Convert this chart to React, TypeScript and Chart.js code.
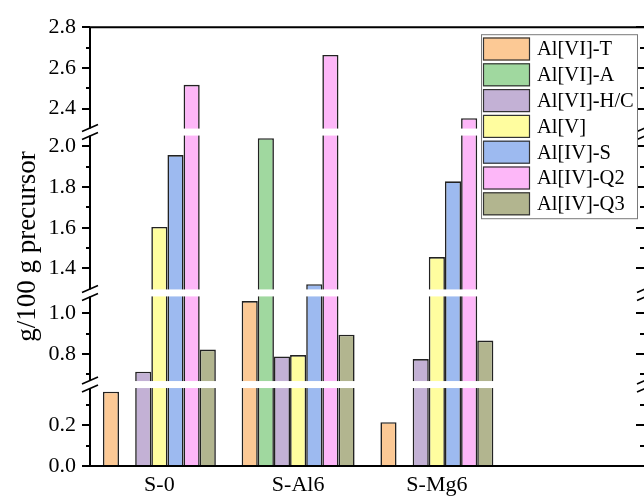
import React, { useEffect, useRef } from 'react';
import { Chart, registerables, LinearScale } from 'chart.js';

Chart.register(...registerables);

// ---------- data ----------
const categories = ['S-0', 'S-Al6', 'S-Mg6', ''];
const seriesNames = ['Al[VI]-T', 'Al[VI]-A', 'Al[VI]-H/C', 'Al[V]', 'Al[IV]-S', 'Al[IV]-Q2', 'Al[IV]-Q3'];
const seriesColors = ['#FCC995', '#A0D89F', '#C3B1D5', '#FFFD9F', '#9DBAF0', '#FDB7F8', '#B2B58F'];
const alVI_T = [0.365, 1.06, 0.215, null];
const alVI_A = [null, 2.04, null, null];
const alVI_HC = [0.713, 0.788, 0.775, null];
const alV = [1.604, 0.795, 1.456, null];
const alIV_S = [1.957, 1.323, 1.828, null];
const alIV_Q2 = [2.517, 2.664, 2.353, null];
const alIV_Q3 = [0.822, 0.895, 0.866, null];
const seriesValues = [alVI_T, alVI_A, alVI_HC, alV, alIV_S, alIV_Q2, alIV_Q3];

const majorTicks = [0, 0.2, 0.8, 1.0, 1.4, 1.6, 1.8, 2.0, 2.4, 2.6, 2.8];
const minorTicks = [0.1, 0.3, 0.7, 0.9, 1.5, 1.7, 1.9, 2.5, 2.7];
const axisBreaks: number[][] = [[0.4, 0.65], [1.1, 1.28], [2.07, 2.285]];
const yMin = 0;
const yMax = 2.8;
const yTitle = 'g/100 g precursor';

const FONT = 'Liberation Serif';

// ---------- broken scale ----------
function compress(v: number) {
  let c = v;
  for (const [a, b] of axisBreaks) {
    if (v >= b) c -= b - a;
    else if (v > a) c -= v - a;
  }
  return c;
}
function expand(c: number) {
  let v = c;
  for (const [a, b] of axisBreaks) {
    if (v > a) v += b - a;
  }
  return v;
}

class BrokenScale extends LinearScale {
  static id = 'broken';
  static defaults = {};
  determineDataLimits() {
    (this as any).min = yMin;
    (this as any).max = yMax;
  }
  buildTicks() {
    return majorTicks.map((v) => ({ value: v }));
  }
  getPixelForValue(value: number) {
    const lo = compress((this as any).min), hi = compress((this as any).max);
    return this.getPixelForDecimal((compress(value) - lo) / (hi - lo));
  }
  getValueForPixel(pixel: number) {
    const lo = compress((this as any).min), hi = compress((this as any).max);
    return expand(lo + this.getDecimalForPixel(pixel) * (hi - lo));
  }
}
Chart.register(BrokenScale as any);

// ---------- plugins ----------
const axesPlugin = {
  id: 'brokenAxes',
  afterDatasetsDraw(chart: any) {
    const { ctx, chartArea: ca } = chart;
    const y = chart.scales.y;
    const half = 3.5;
    const breakPx = axisBreaks.map(([a]) => y.getPixelForValue(a));
    ctx.save();
    // gaps through bars
    ctx.fillStyle = '#ffffff';
    for (const py of breakPx) {
      ctx.fillRect(ca.left + 1, py - half, ca.right - ca.left - 1, half * 2);
    }
    ctx.strokeStyle = '#000';
    ctx.lineCap = 'butt';
    // top & bottom lines
    ctx.lineWidth = 2;
    ctx.beginPath();
    ctx.moveTo(ca.left - 1, ca.bottom);
    ctx.lineTo(ca.right + 1, ca.bottom);
    ctx.moveTo(ca.left - 1, ca.top);
    ctx.lineTo(ca.right + 1, ca.top);
    ctx.stroke();
    // vertical lines with breaks
    const sorted = [...breakPx].sort((p, q) => q - p);
    for (const x of [ca.left, ca.right]) {
      ctx.beginPath();
      let start = ca.bottom;
      for (const py of sorted) {
        ctx.moveTo(x, start);
        ctx.lineTo(x, py + half);
        start = py - half;
      }
      ctx.moveTo(x, start);
      ctx.lineTo(x, ca.top);
      ctx.stroke();
      // slashes
      ctx.lineWidth = 1.6;
      ctx.beginPath();
      for (const py of breakPx) {
        for (const d of [-4, 4]) {
          ctx.moveTo(x - 8, py + d + 3.5);
          ctx.lineTo(x + 8, py + d - 3.5);
        }
      }
      ctx.stroke();
      ctx.lineWidth = 2;
    }
    // ticks
    ctx.lineWidth = 2;
    ctx.beginPath();
    for (const v of majorTicks) {
      const py = Math.round(y.getPixelForValue(v));
      ctx.moveTo(ca.left - 8, py);
      ctx.lineTo(ca.left, py);
      ctx.moveTo(ca.right - 9, py);
      ctx.lineTo(ca.right, py);
    }
    for (const v of minorTicks) {
      const py = Math.round(y.getPixelForValue(v));
      ctx.moveTo(ca.left - 4, py);
      ctx.lineTo(ca.left, py);
      ctx.moveTo(ca.right - 5, py);
      ctx.lineTo(ca.right, py);
    }
    ctx.stroke();
    ctx.restore();
  },
  afterDraw(chart: any) {
    const { ctx, chartArea: ca } = chart;
    const boxW = 156;
    const rowH = 25.8;
    const boxH = 184;
    const bx = ca.right - 8 - boxW;
    const by = ca.top + 7;
    ctx.save();
    ctx.fillStyle = '#fff';
    ctx.fillRect(bx, by, boxW, boxH);
    ctx.strokeStyle = '#7a7a7a';
    ctx.lineWidth = 1;
    ctx.strokeRect(bx + 0.5, by + 0.5, boxW, boxH);
    ctx.font = `20.5px "${FONT}"`;
    ctx.textBaseline = 'middle';
    ctx.textAlign = 'left';
    seriesNames.forEach((name, i) => {
      const sy = by + 3.3 + i * rowH;
      ctx.fillStyle = seriesColors[i];
      ctx.fillRect(bx + 2, sy, 47, 23);
      ctx.strokeStyle = '#333';
      ctx.lineWidth = 1.2;
      ctx.strokeRect(bx + 2.5, sy + 0.5, 46, 22);
      ctx.fillStyle = '#000';
      ctx.fillText(name, bx + 56, sy + 12.5);
    });
    ctx.restore();
  },
};

export default function App() {
  const ref = useRef<HTMLCanvasElement>(null);
  useEffect(() => {
    if (!ref.current) return;
    const chart = new Chart(ref.current, {
      type: 'bar',
      data: {
        labels: categories,
        datasets: seriesNames.map((name, i) => ({
          label: name,
          data: seriesValues[i] as any,
          backgroundColor: seriesColors[i],
          borderColor: '#222',
          borderWidth: 1.6,
          categoryPercentage: 0.814,
          barPercentage: 1,
        })),
      },
      options: {
        animation: false,
        responsive: false,
        devicePixelRatio: 1,
        layout: { padding: { top: 19, right: 6, left: 0, bottom: 0 } },
        plugins: { legend: { display: false }, tooltip: { enabled: false } },
        scales: {
          x: {
            type: 'category',
            grid: { display: false, drawTicks: false },
            border: { display: false },
            ticks: { color: '#000', font: { family: FONT, size: 22 }, padding: 6 },
            afterFit: (s: any) => { s.height = 32; },
          },
          y: {
            type: 'broken' as any,
            min: yMin,
            max: yMax,
            grid: { display: false, drawTicks: false },
            border: { display: false },
            ticks: {
              color: '#000',
              font: { family: FONT, size: 22 },
              padding: 14,
              callback: (v: any) => Number(v).toFixed(1),
            },
            title: {
              display: true,
              text: yTitle,
              color: '#000',
              font: { family: FONT, size: 27 },
              padding: { top: 12, bottom: 0 },
            },
            afterFit: (s: any) => { s.width = 90; },
          },
        },
      } as any,
      plugins: [axesPlugin],
    });
    return () => chart.destroy();
  }, []);
  return (
    <div style={{ position: 'fixed', left: 0, top: 0, width: 644, height: 498, overflow: 'hidden', background: '#fff' }}>
      <canvas ref={ref} width={651} height={498} style={{ width: 651, height: 498, display: 'block' }} />
    </div>
  );
}
